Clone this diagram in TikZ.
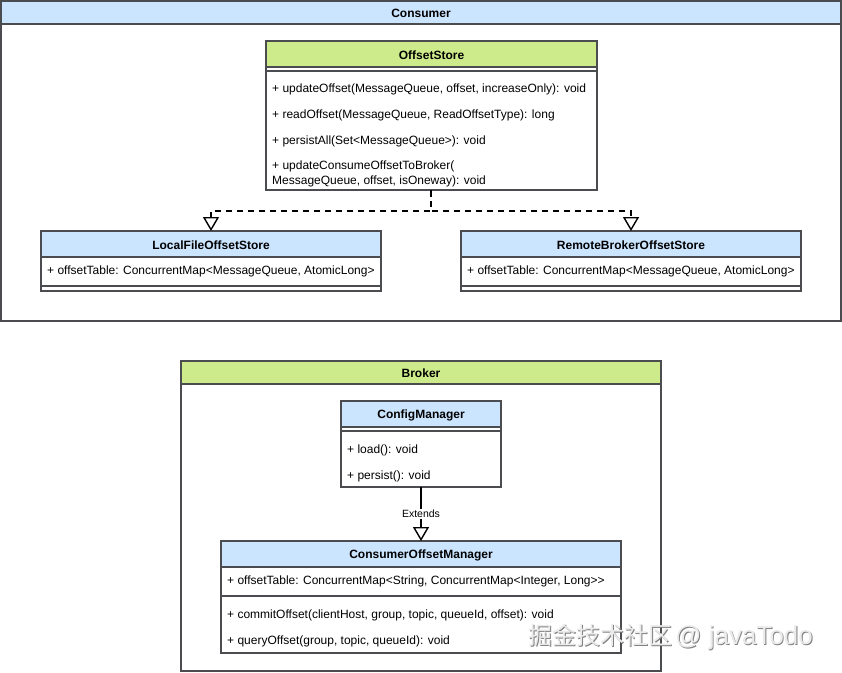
\documentclass[tikz,border=0pt]{standalone}
\usepackage{fontspec}
\setmainfont{Liberation Sans}
\newfontfamily\cjkfont{Noto Sans CJK SC}
\usetikzlibrary{arrows.meta}
\definecolor{hdrblue}{HTML}{CCE5FF}
\definecolor{hdrgreen}{HTML}{CDEB8B}
\definecolor{strk}{HTML}{4A4C50}
\tikzset{
  box/.style={draw=strk, line width=1.4pt, fill=white, inner sep=0pt, outer sep=0pt},
  hdrb/.style={draw=strk, line width=1.4pt, fill=hdrblue, inner sep=0pt, outer sep=0pt},
  hdrg/.style={draw=strk, line width=1.4pt, fill=hdrgreen, inner sep=0pt, outer sep=0pt},
  ttl/.style={font=\fontsize{12}{14}\selectfont\bfseries, text=black},
  mem/.style={font=\fontsize{12}{14.5}\selectfont, anchor=west, inner sep=0pt, align=left, text=black},
  sep/.style={draw=strk, line width=1.4pt},
  conn/.style={draw=black, line width=1.4pt},
  tip/.style={-{Triangle[open, width=16pt, length=14pt, line width=1.4pt]}},
  wmk/.style={anchor=west, inner sep=0pt, font=\fontsize{24}{28}\selectfont},
}
\begin{document}
\begin{tikzpicture}[x=1pt,y=-1pt]
\useasboundingbox (0,0) rectangle (842,672);
\fill[white] (0,0) rectangle (842,672);

% ---------- Consumer frame ----------
\node[box, minimum width=840pt, minimum height=320pt, anchor=north west] (consumer) at (1,1) {};
\node[hdrb, minimum width=840pt, minimum height=23pt, anchor=north west] (consumerH) at (1,1) {};
\node[ttl] (consumerT) at (421,13.5) {Consumer};

% OffsetStore
\node[box, minimum width=331pt, minimum height=149pt, anchor=north west] (os) at (266,41) {};
\node[hdrg, minimum width=331pt, minimum height=26pt, anchor=north west] (osH) at (266,41) {};
\node[ttl] (osT) at (431.5,55) {OffsetStore};
\draw[sep] (266,71) -- (597,71);
\node[mem] (os1) at (272,89) {+ updateOffset(MessageQueue, offset, increaseOnly): void};
\node[mem] (os2) at (272,115) {+ readOffset(MessageQueue, ReadOffsetType): long};
\node[mem] (os3) at (272,141) {+ persistAll(Set<MessageQueue>): void};
\node[mem] (os4) at (272,174) {+ updateConsumeOffsetToBroker(\\MessageQueue, offset, isOneway): void};

% LocalFileOffsetStore
\node[box, minimum width=340pt, minimum height=60pt, anchor=north west] (lf) at (41,231) {};
\node[hdrb, minimum width=340pt, minimum height=26pt, anchor=north west] (lfH) at (41,231) {};
\node[ttl] (lfT) at (211,245) {LocalFileOffsetStore};
\node[mem] (lf1) at (47,271) {+ offsetTable: ConcurrentMap<MessageQueue, AtomicLong>};
\draw[sep] (41,286) -- (381,286);

% RemoteBrokerOffsetStore
\node[box, minimum width=340pt, minimum height=60pt, anchor=north west] (rb) at (461,231) {};
\node[hdrb, minimum width=340pt, minimum height=26pt, anchor=north west] (rbH) at (461,231) {};
\node[ttl] (rbT) at (631,245) {RemoteBrokerOffsetStore};
\node[mem] (rb1) at (467,271) {+ offsetTable: ConcurrentMap<MessageQueue, AtomicLong>};
\draw[sep] (461,286) -- (801,286);

% realization connectors
\coordinate (j) at (431,211);
\draw[conn] (os.south -| j) -- ++(0,7);
\draw[conn, dashed, dash pattern=on 6pt off 5pt, tip] (os.south -| j) -- (j) -- (j -| lfH.north) -- (lfH.north);
\draw[conn, dashed, dash pattern=on 6pt off 5pt, tip] (os.south -| j) -- (j) -- (j -| rbH.north) -- (rbH.north);

% ---------- Broker frame ----------
\node[box, minimum width=480pt, minimum height=310pt, anchor=north west] (broker) at (181,361) {};
\node[hdrg, minimum width=480pt, minimum height=23pt, anchor=north west] (brokerH) at (181,361) {};
\node[ttl] (brokerT) at (421,373.5) {Broker};

% ConfigManager
\node[box, minimum width=160pt, minimum height=86pt, anchor=north west] (cm) at (341,401) {};
\node[hdrb, minimum width=160pt, minimum height=26pt, anchor=north west] (cmH) at (341,401) {};
\node[ttl] (cmT) at (421,415) {ConfigManager};
\draw[sep] (341,431) -- (501,431);
\node[mem] (cm1) at (347,450) {+ load(): void};
\node[mem] (cm2) at (347,476) {+ persist(): void};

% ConsumerOffsetManager
\node[box, minimum width=400pt, minimum height=112pt, anchor=north west] (com) at (221,541) {};
\node[hdrb, minimum width=400pt, minimum height=26pt, anchor=north west] (comH) at (221,541) {};
\node[ttl] (comT) at (421,555) {ConsumerOffsetManager};
\node[mem] (com1) at (227,581) {+ offsetTable: ConcurrentMap<String, ConcurrentMap<Integer, Long>{}>};
\draw[sep] (221,596) -- (621,596);
\node[mem] (com2) at (227,615) {+ commitOffset(clientHost, group, topic, queueId, offset): void};
\node[mem] (com3) at (227,641) {+ queryOffset(group, topic, queueId): void};

% Extends
\draw[conn, tip] (cm.south) -- node[fill=white, inner sep=1pt, font=\fontsize{10.5}{12}\selectfont] (ext) {Extends} (comH.north);

% watermark
\node[wmk, text=black!50] (wm0) at (528.9,637.9) {{\cjkfont 掘金技术社区}\hspace{3pt}{\fontsize{26}{28}\selectfont @ javaTodo}};
\node[wmk, text=white!92!black] (wm) at (528,637) {{\cjkfont 掘金技术社区}\hspace{3pt}{\fontsize{26}{28}\selectfont @ javaTodo}};
\end{tikzpicture}
\end{document}
